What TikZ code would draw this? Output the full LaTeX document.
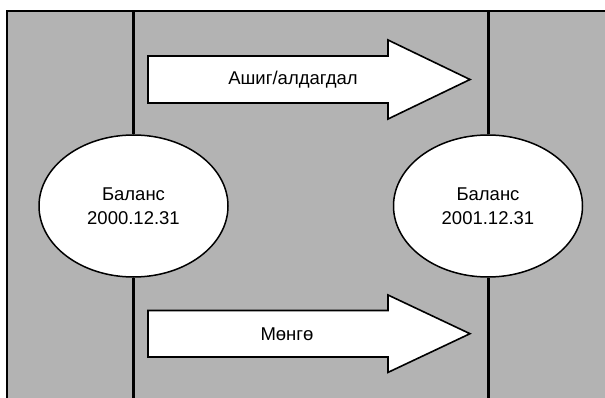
\documentclass[tikz,border=0pt]{standalone}
\usepackage{fontspec}
\setmainfont{Liberation Sans}
\usetikzlibrary{positioning,shapes.geometric}
\definecolor{panel}{RGB}{179,179,179}

\begin{document}
\begin{tikzpicture}[x=1pt,y=-1pt,
    balance/.style={ellipse,draw,fill=white,line width=1.5pt,
        minimum width=189pt,minimum height=142pt,align=center,
        font=\fontsize{18.5}{24}\selectfont},
    flow/.style={draw,fill=white,line width=1.6pt,line join=miter},
    flowtext/.style={font=\fontsize{18.5}{22}\selectfont},
    period/.style={line width=3pt}]
    \useasboundingbox (0,0) rectangle (605,398);
    \clip (0,0) rectangle (605,398);
    \draw[fill=panel,line width=1.3pt] (7,11) rectangle (620,410);

    \coordinate (top)    at (0,11);
    \coordinate (bottom) at (0,400);

    \node[balance] (bal00) at (133.5,206) {Баланс\\2000.12.31};
    \node[balance] (bal01) at (488,206)   {Баланс\\2001.12.31};

    \draw[period] (bal00.north) -- (bal00.north |- top);
    \draw[period] (bal00.south) -- (bal00.south |- bottom);
    \draw[period] (bal01.north) -- (bal01.north |- top);
    \draw[period] (bal01.south) -- (bal01.south |- bottom);

    % profit / loss
    \draw[flow] (148,56) -- (388,56) -- (388,40) -- (470,79.5)
        -- (388,119) -- (388,103) -- (148,103) -- cycle;
    \node[flowtext] (profit) at (293,80) {Ашиг/алдагдал};

    % cash
    \draw[flow] (148,310.5) -- (388,310.5) -- (388,295) -- (470,333.7)
        -- (388,372.4) -- (388,357) -- (148,357) -- cycle;
    \node[flowtext] (cash) at (287,334) {Мөнгө};
\end{tikzpicture}
\end{document}
